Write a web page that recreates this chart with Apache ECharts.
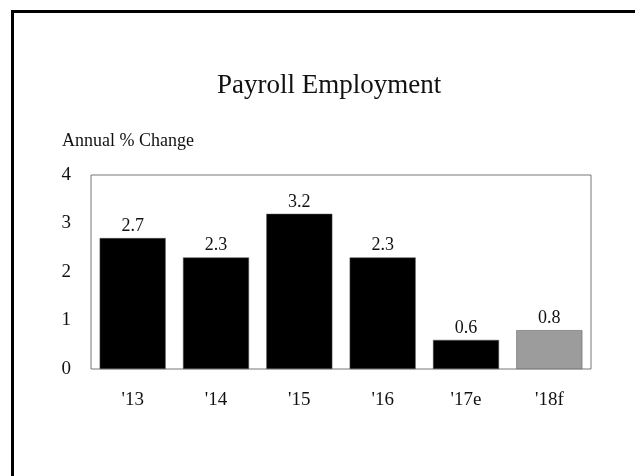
<!DOCTYPE html>
<html>
<head>
  <meta charset="utf-8">
  <title>Payroll Employment</title>
  <style>
    html, body { margin: 0; padding: 0; background: #fff; }
    #main { width: 635px; height: 476px; }
  </style>
</head>
<body>
<div id="main"></div>
<script src="https://cdn.jsdelivr.net/npm/echarts@6/dist/echarts.min.js"></script>
<script>
  // 数据
  var years = ["'13", "'14", "'15", "'16", "'17e", "'18f"];
  var changes = [2.7, 2.3, 3.2, 2.3, 0.6, 0.8];
  var yTicks = [0, 1, 2, 3, 4];

  var serif = '"Liberation Serif", "Times New Roman", serif';

  var myChart = echarts.init(document.getElementById('main'));

  myChart.setOption({
    animation: false,
    backgroundColor: '#fff',
    title: [
      {
        text: 'Payroll Employment',
        left: 212,
        top: 67,
        textStyle: { fontFamily: serif, fontSize: 27, fontWeight: 'normal', color: '#111' }
      },
      {
        text: 'Annual % Change',
        left: 57,
        top: 127,
        textStyle: { fontFamily: serif, fontSize: 18, fontWeight: 'normal', color: '#111' }
      }
    ],
    // 外框（只有左边和上边）
    graphic: [
      {
        type: 'rect',
        shape: { x: 12.5, y: 11.5, width: 700, height: 600 },
        style: { fill: null, stroke: '#000', lineWidth: 3 }
      }
    ],
    grid: {
      left: 91,
      right: 44,
      top: 175,
      bottom: 107,
      show: true,
      borderColor: '#777',
      borderWidth: 1,
      backgroundColor: 'transparent'
    },
    xAxis: {
      type: 'category',
      data: years,
      axisLine: { show: false },
      axisTick: { show: false },
      axisLabel: { fontFamily: serif, fontSize: 19, color: '#111', margin: 22 }
    },
    yAxis: {
      type: 'value',
      min: yTicks[0],
      max: yTicks[yTicks.length - 1],
      interval: 1,
      splitLine: { show: false },
      axisLine: { show: false },
      axisTick: { show: false },
      axisLabel: { fontFamily: serif, fontSize: 19, color: '#111', margin: 20 }
    },
    series: [
      {
        type: 'bar',
        barWidth: 66,
        data: changes.map(function (v, i) {
          return {
            value: v,
            itemStyle: { color: i === changes.length - 1 ? '#9c9c9c' : '#000' }
          };
        }),
        itemStyle: { borderColor: '#555', borderWidth: 0.5 },
        label: {
          show: true,
          position: 'top',
          distance: 3,
          fontFamily: serif,
          fontSize: 18,
          color: '#111',
          formatter: function (p) { return p.value.toFixed(1); }
        }
      }
    ]
  });
</script>
</body>
</html>
